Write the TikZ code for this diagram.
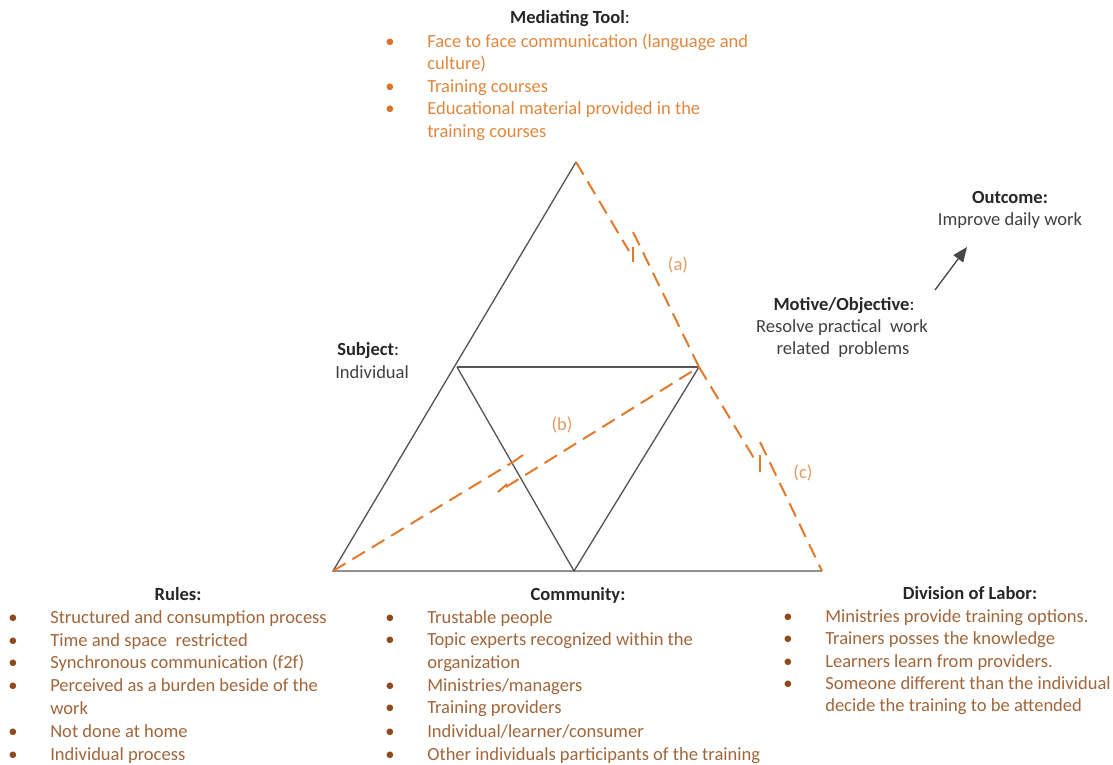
\documentclass[tikz,border=0pt]{standalone}
\usepackage{fontspec}
\setmainfont{Carlito}
\usetikzlibrary{arrows.meta}
\definecolor{orng}{HTML}{E27A2C}
\definecolor{orngtext}{HTML}{E0873F}
\definecolor{lbltext}{HTML}{E49A60}
\definecolor{brwn}{HTML}{A0663A}
\definecolor{bulbrown}{HTML}{8E4A1C}
\definecolor{bulorng}{HTML}{D8732A}
\definecolor{dark}{HTML}{262626}
\definecolor{textgray}{HTML}{404040}
\definecolor{lgray}{HTML}{555555}
\tikzset{
  txt/.style={inner sep=0pt, anchor=base west, font=\fontsize{13.9}{17}\selectfont},
  ctxt/.style={inner sep=0pt, anchor=base, font=\fontsize{13.9}{17}\selectfont},
  head/.style={ctxt, text=dark},
  medtext/.style={txt, text=orngtext},
  listtext/.style={txt, text=brwn},
  bulo/.style={txt, anchor=base, text=bulorng},
  bulb/.style={txt, anchor=base, text=bulbrown},
  gline/.style={draw=lgray, line width=1pt},
  oline/.style={draw=orng, line width=1.5pt, dash pattern=on 11pt off 6pt},
  otick/.style={draw=orng, line width=1.5pt},
  lbl/.style={ctxt, text=lbltext},
}
\begin{document}
\begin{tikzpicture}[x=0.75pt,y=-0.75pt]
\useasboundingbox (0,0) rectangle (1113,764);
% triangle vertices
\coordinate (A) at (576,162);
\coordinate (BL) at (333,571);
\coordinate (BR) at (822,571);
\coordinate (L) at (457,367);
\coordinate (R) at (699,367);
\coordinate (M) at (574,571);
% gray lines
\draw[gline] (A) -- (BL) -- (BR);
\draw[gline] (L) -- (R);
\draw[gline] (L) -- (M) -- (R);
% (a)
\coordinate (a1) at (629,251);
\coordinate (a2) at (633,247);
\coordinate (a3) at (633,262);
\coordinate (a4) at (633,232);
\draw[oline] (A) -- (a1);
\draw[otick] (a2) -- (a3);
\draw[oline] (a4) -- (R);
% (b)
\coordinate (b1) at (513,462);
\coordinate (b2) at (523,455);
\coordinate (b3) at (498,492);
\coordinate (b4) at (507,484);
\coordinate (b5) at (506,487);
\draw[oline] (BL) -- (b1);
\draw[otick] (b1) -- (b2);
\draw[otick] (b3) -- (b4);
\draw[oline] (b5) -- (R);
% (c)
\coordinate (c1) at (755,460);
\coordinate (c2) at (760,455);
\coordinate (c3) at (760,472);
\coordinate (c4) at (760,442);
\draw[oline] (R) -- (c1);
\draw[otick] (c2) -- (c3);
\draw[oline] (c4) -- (BR);
% labels
\node[lbl] (la) at (678,270) {(a)};
\node[lbl] (lb) at (562,430) {(b)};
\node[lbl] (lc) at (803,478) {(c)};
% Mediating tool
\node[head] (medh) at (570,23) {\textbf{Mediating Tool}:};
\node[bulo] (mb1) at (390,47) {•};
\node[medtext] (m1) at (427,47) {Face to face communication (language and};
\node[medtext] (m1b) at (427,69.5) {culture)};
\node[bulo] (mb2) at (390,92) {•};
\node[medtext] (m2) at (427,92) {Training courses};
\node[bulo] (mb3) at (390,114.5) {•};
\node[medtext] (m3) at (427,114.5) {Educational material provided in the};
\node[medtext] (m3b) at (427,137) {training courses};
% Outcome
\node[head] (outh) at (1010,203) {\textbf{Outcome:}};
\node[ctxt, text=textgray] (outt) at (1010,225) {Improve daily work};
% Motive
\node[head] (moth) at (844,310) {\textbf{Motive/Objective}:};
\node[ctxt, text=textgray] (mot1) at (842,332) {Resolve practical\ \ work};
\node[ctxt, text=textgray] (mot2) at (843,354) {related\ \ problems};
\coordinate (arS) at (935,290);
\coordinate (arE) at (967,247);
\draw[draw=dark!85, line width=1pt, -{Triangle[length=11pt,width=9pt]}] (arS) -- (arE);
% Subject
\node[txt, text=dark] (subh) at (337,355) {\textbf{Subject}:};
\node[txt, text=textgray] (subt) at (335,378) {Individual};
% Rules
\node[head] (rulh) at (178,600) {\textbf{Rules:}};
\node[bulb] (rb1) at (13,623) {•};
\node[listtext] (r1) at (50,623) {Structured and consumption process};
\node[bulb] (rb2) at (13,646) {•};
\node[listtext] (r2) at (50,646) {Time and space\ \ restricted};
\node[bulb] (rb3) at (13,668.5) {•};
\node[listtext] (r3) at (50,668.5) {Synchronous communication (f2f)};
\node[bulb] (rb4) at (13,691.5) {•};
\node[listtext] (r4) at (50,691.5) {Perceived as a burden beside of the};
\node[listtext] (r4b) at (50,714) {work};
\node[bulb] (rb5) at (13,737) {•};
\node[listtext] (r5) at (50,737) {Not done at home};
\node[bulb] (rb6) at (13,760) {•};
\node[listtext] (r6) at (50,760) {Individual process};
% Community
\node[head] (comh) at (578,600) {\textbf{Community:}};
\node[bulb] (cb1) at (390,623) {•};
\node[listtext] (c1t) at (427,623) {Trustable people};
\node[bulb] (cb2) at (390,645.5) {•};
\node[listtext] (c2t) at (427,645.5) {Topic experts recognized within the};
\node[listtext] (c2b) at (427,668) {organization};
\node[bulb] (cb3) at (390,691) {•};
\node[listtext] (c3t) at (427,691) {Ministries/managers};
\node[bulb] (cb4) at (390,713.5) {•};
\node[listtext] (c4t) at (427,713.5) {Training providers};
\node[bulb] (cb5) at (390,737) {•};
\node[listtext] (c5t) at (427,737) {Individual/learner/consumer};
\node[bulb] (cb6) at (390,760) {•};
\node[listtext] (c6t) at (427,760) {Other individuals participants of the training};
% Division of labor
\node[head] (divh) at (970,599) {\textbf{Division of Labor:}};
\node[bulb] (db1) at (788,622) {•};
\node[listtext] (d1) at (825,622) {Ministries provide training options.};
\node[bulb] (db2) at (788,644) {•};
\node[listtext] (d2) at (825,644) {Trainers posses the knowledge};
\node[bulb] (db3) at (788,667) {•};
\node[listtext] (d3) at (825,667) {Learners learn from providers.};
\node[bulb] (db4) at (788,689) {•};
\node[listtext] (d4) at (825,689) {Someone different than the individual};
\node[listtext] (d4b) at (825,711) {decide the training to be attended};
\end{tikzpicture}
\end{document}
